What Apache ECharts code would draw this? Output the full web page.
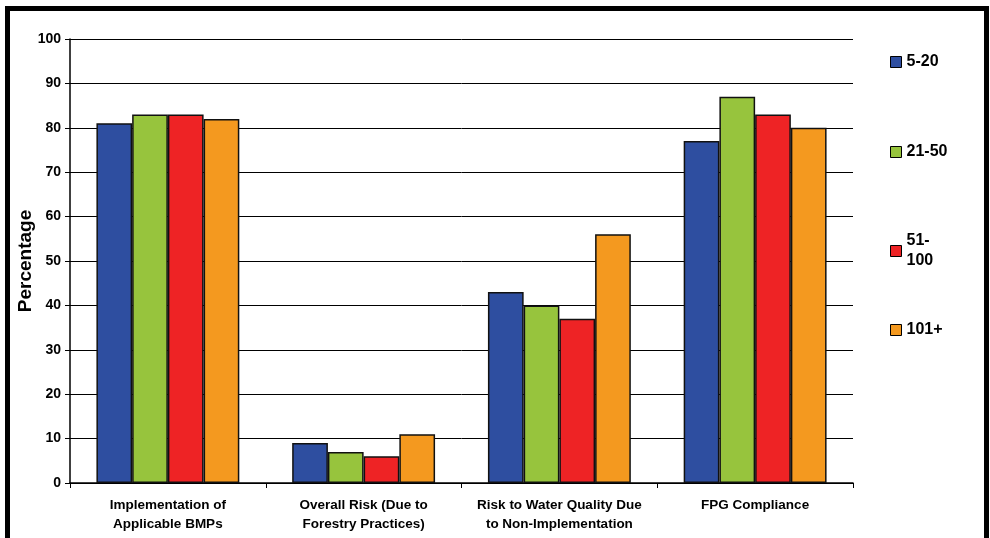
<!DOCTYPE html>
<html><head><meta charset="utf-8">
<script src="https://cdn.jsdelivr.net/npm/echarts@6/dist/echarts.min.js"></script>
<style>html,body{margin:0;padding:0;background:#fff}#c{width:990px;height:538px}</style>
</head><body><div id="c"></div>
<script>
const categories = ['Implementation of\nApplicable BMPs','Overall Risk (Due to\nForestry Practices)','Risk to Water Quality Due\nto Non-Implementation','FPG Compliance'];
const seriesNames = ['5-20','21-50','51-100','101+'];
const s1 = [81, 9, 43, 77];
const s2 = [83, 7, 40, 87];
const s3 = [83, 6, 37, 83];
const s4 = [82, 11, 56, 80];
const colors = ['#2E4EA0','#97C43D','#EE2325','#F4991F'];
const yTicks = [0,10,20,30,40,50,60,70,80,90,100];
const allData = [s1,s2,s3,s4];
const legendTops = [47, 137, 226, 315];
const font = 'Arial, "Liberation Sans", sans-serif';
const chart = echarts.init(document.getElementById('c'));
chart.setOption({
  animation:false,
  backgroundColor:'#fff',
  textStyle:{fontFamily:font},
  graphic:[{type:'rect',shape:{x:7.5,y:8.5,width:979,height:533},style:{fill:'none',stroke:'#000',lineWidth:5},silent:true}],
  grid:{left:70,right:137,top:39,bottom:55,outerBoundsMode:'none',containLabel:false},
  legend:seriesNames.map((n,i)=>({
    orient:'vertical',left:885,top:legendTops[i],itemWidth:11,itemHeight:11,itemGap:4,
    icon:'rect',
    textStyle:{fontFamily:font,fontWeight:'bold',fontSize:16,color:'#000',lineHeight:20},
    formatter:function(x){return x==='51-100'?'51-\n100':x;},
    itemStyle:{borderColor:'#000',borderWidth:1},
    data:[n]
  })),
  xAxis:{type:'category',data:categories,
    axisLine:{lineStyle:{color:'#000',width:1.5}},
    axisTick:{show:true,length:5,lineStyle:{color:'#000'}},
    axisLabel:{fontFamily:font,fontWeight:'bold',fontSize:13.5,color:'#000',lineHeight:19,margin:13,interval:0}
  },
  yAxis:{type:'value',min:yTicks[0],max:yTicks[yTicks.length-1],interval:10,
    name:'Percentage',nameLocation:'middle',nameGap:35,nameMoveOverlap:false,
    nameTextStyle:{fontFamily:font,fontWeight:'bold',fontSize:19,color:'#000'},
    axisLine:{show:true,lineStyle:{color:'#000',width:1.5}},
    axisTick:{show:true,length:5,lineStyle:{color:'#000'}},
    splitLine:{lineStyle:{color:'#000',width:1}},
    axisLabel:{fontFamily:font,fontWeight:'bold',fontSize:14,color:'#000',margin:9}
  },
  series:seriesNames.map((n,i)=>({
    name:n,type:'bar',data:allData[i],barGap:'0%',barCategoryGap:'27%',
    itemStyle:{color:colors[i],borderColor:'#111',borderWidth:1.5}
  }))
});
</script></body></html>
